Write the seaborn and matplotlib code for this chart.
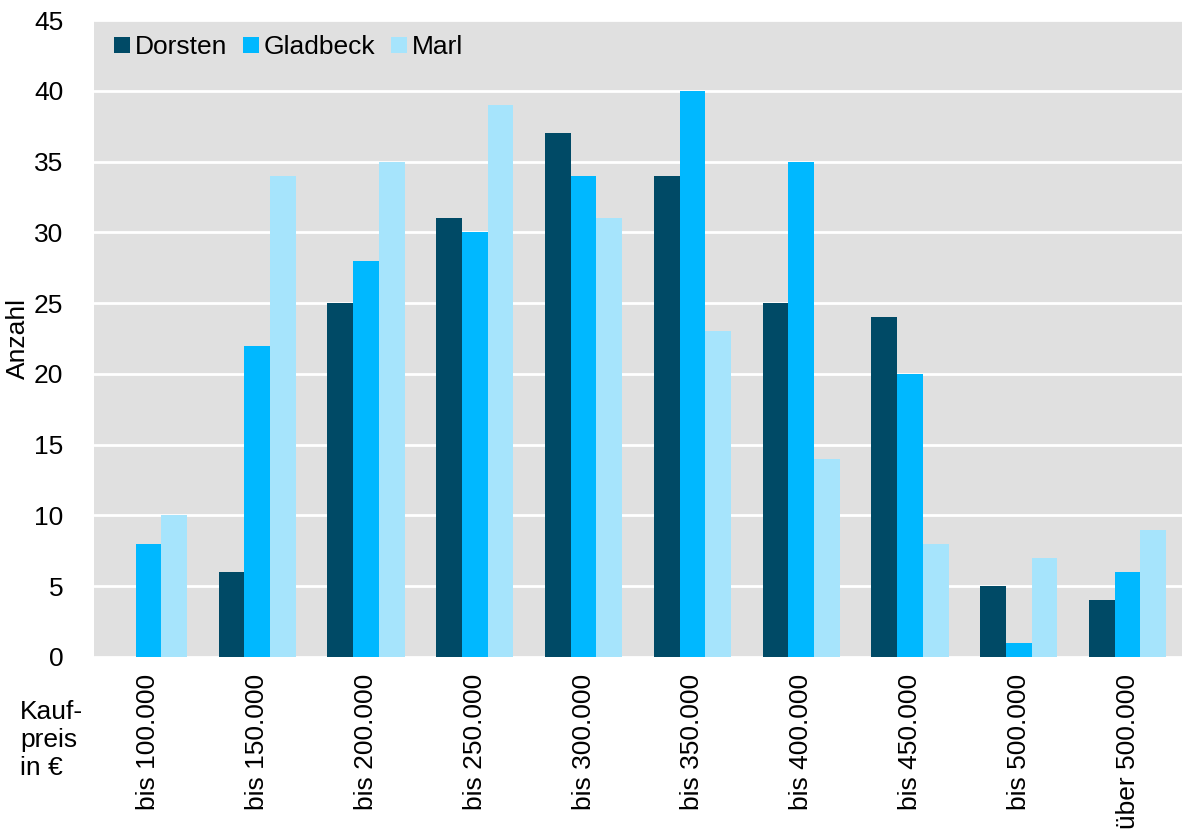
import matplotlib
matplotlib.use("Agg")
import matplotlib.pyplot as plt
import seaborn as sns
import pandas as pd

# Kaufpreisklassen und Anzahl der Verkäufe je Stadt
kategorien = ["bis 100.000", "bis 150.000", "bis 200.000", "bis 250.000", "bis 300.000",
              "bis 350.000", "bis 400.000", "bis 450.000", "bis 500.000", "über 500.000"]
dorsten = [0, 6, 25, 31, 37, 34, 25, 24, 5, 4]
gladbeck = [8, 22, 28, 30, 34, 40, 35, 20, 1, 6]
marl = [10, 34, 35, 39, 31, 23, 14, 8, 7, 9]
staedte = ["Dorsten", "Gladbeck", "Marl"]
farben = ["#004a66", "#00b8ff", "#a6e4fc"]
y_ticks = list(range(0, 50, 5))

df = pd.DataFrame({
    "Kategorie": kategorien * 3,
    "Stadt": [s for s in staedte for _ in kategorien],
    "Anzahl": dorsten + gladbeck + marl,
})

sns.set_theme(style="white")
plt.rcParams["font.family"] = ["Liberation Sans", "DejaVu Sans"]
plt.rcParams["text.color"] = "black"

FS = 19

fig = plt.figure(figsize=(11.82, 8.32), dpi=100)
ax = fig.add_axes([94 / 1182, 1 - 657 / 832, (1182 - 94) / 1182, (657 - 20) / 832])
ax.set_facecolor("#e0e0e0")

sns.barplot(data=df, x="Kategorie", y="Anzahl", hue="Stadt", hue_order=staedte,
            palette=farben, width=0.71, gap=0, saturation=1, ax=ax, linewidth=0)

ax.set_ylim(0, 45)
ax.set_xlim(-0.5, len(kategorien) - 0.5)
ax.set_yticks(y_ticks)
ax.yaxis.grid(True, color="white", linewidth=2)
ax.set_axisbelow(True)
for s in ax.spines.values():
    s.set_visible(False)
ax.tick_params(axis="y", length=0, labelsize=FS, pad=22, labelcolor="black")
ax.tick_params(axis="x", length=0, labelsize=FS, pad=12, labelcolor="black")
plt.setp(ax.get_xticklabels(), rotation=90, va="top", ha="center")
ax.set_xlabel("")
ax.set_ylabel("Anzahl", fontsize=FS, color="black")
ax.yaxis.set_label_coords(-0.059, 0.5)

ax.legend(loc="upper left", ncol=3, frameon=False, fontsize=FS, handlelength=0.6,
          handleheight=0.6, handletextpad=0.18, columnspacing=0.6,
          bbox_to_anchor=(0.0015, 1.005), borderaxespad=0.3)

fig.text(20 / 1182, 1 - 700 / 832, "Kauf-\npreis\nin €", fontsize=FS, ha="left",
         va="top", linespacing=1.2, color="black")

fig.savefig("out.png", dpi=100)
